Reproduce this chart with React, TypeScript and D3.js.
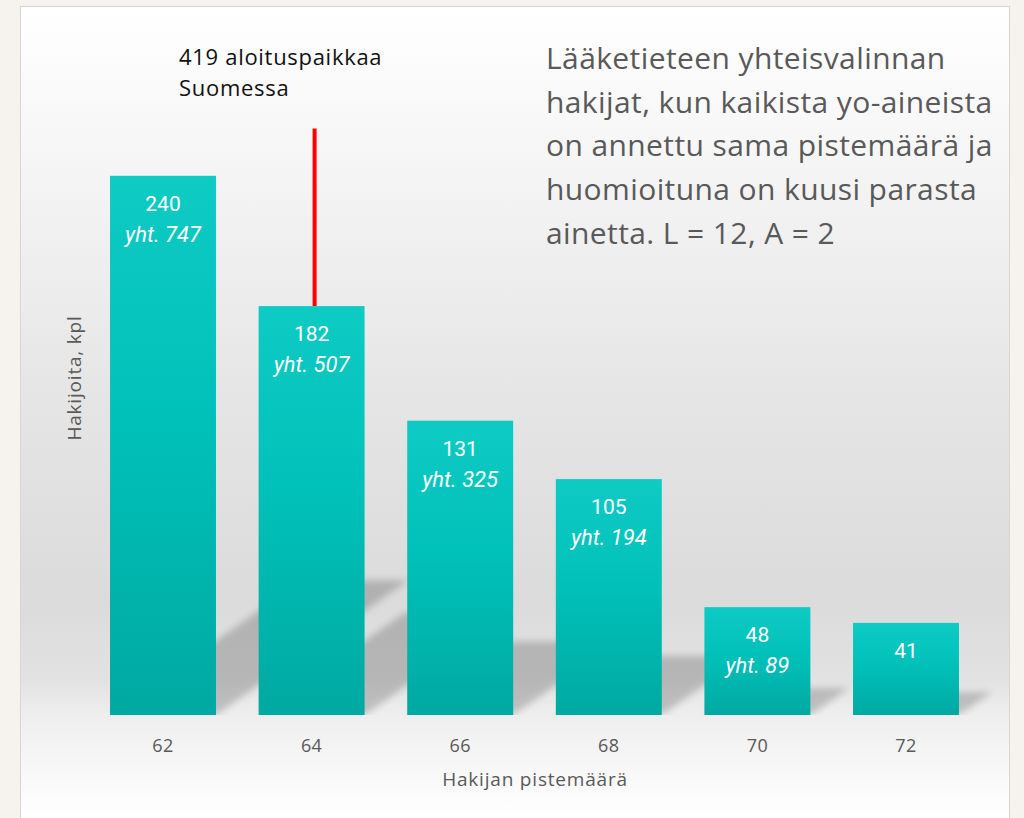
import React from 'react';
import * as d3 from 'd3';

const categories = ['62', '64', '66', '68', '70', '72'];
const applicants = [240, 182, 131, 105, 48, 41];
const cumulative: (number | null)[] = [747, 507, 325, 194, 89, null];
const thresholdCategory = '64';
const thresholdTopValue = 261;
const annotationLines = ['419 aloituspaikkaa', 'Suomessa'];
const titleLines = [
  'Lääketieteen yhteisvalinnan',
  'hakijat, kun kaikista yo-aineista',
  'on annettu sama pistemäärä ja',
  'huomioituna on kuusi parasta',
  'ainetta. L = 12, A = 2',
];
const xTitle = 'Hakijan pistemäärä';
const yTitle = 'Hakijoita, kpl';

const W = 1024;
const H = 818;
const baseY = 715;

export default function App() {
  const x = d3.scaleBand<string>().domain(categories).range([88.7, 980.3]).paddingInner(0.287).paddingOuter(0.1435);
  const y = d3.scaleLinear().domain([0, 300]).range([baseY, 41]);
  const bw = x.bandwidth();

  const shadows = categories.map((c, i) => {
    const x0 = x(c)!;
    const x1 = x0 + bw;
    const h = baseY - y(applicants[i]);
    const dy = 0.25 * h;
    const dx = dy / 0.7;
    return `M${x0},${baseY}L${x1},${baseY}L${x1 + dx},${baseY - dy}L${x0 + dx},${baseY - dy}Z`;
  });

  const redX = x(thresholdCategory)! + bw / 2 + 3;

  return (
    <svg width={W} height={H} style={{ position: 'absolute', left: 0, top: 0, display: 'block' }}>
      <defs>
        <linearGradient id="panelGrad" gradientUnits="userSpaceOnUse" x1="0" y1="6" x2="0" y2="818">
          <stop offset={0} stopColor="#ffffff" />
          <stop offset={(150 - 6) / 812} stopColor="#f6f6f6" />
          <stop offset={(400 - 6) / 812} stopColor="#e5e5e5" />
          <stop offset={(600 - 6) / 812} stopColor="#dbdbdb" />
          <stop offset={(680 - 6) / 812} stopColor="#e2e2e2" />
          <stop offset={(715 - 6) / 812} stopColor="#eeeeee" />
          <stop offset={(760 - 6) / 812} stopColor="#f6f6f6" />
          <stop offset={1} stopColor="#ffffff" />
        </linearGradient>
        <linearGradient id="barGrad" x1="0" y1="0" x2="0" y2="1">
          <stop offset={0} stopColor="#0ecbc4" />
          <stop offset={0.45} stopColor="#00c1b9" />
          <stop offset={1} stopColor="#00a9a2" />
        </linearGradient>
        <filter id="shBlur" x="-20%" y="-20%" width="140%" height="140%">
          <feGaussianBlur stdDeviation="3.5" />
        </filter>
        <clipPath id="plotClip">
          <rect x={21} y={7} width={988} height={baseY - 7} />
        </clipPath>
      </defs>

      <rect x={0} y={0} width={W} height={H} fill="#f6f3ee" />
      <rect x={20.5} y={6.5} width={989} height={830} fill="url(#panelGrad)" stroke="#d6d6d6" strokeWidth={1} />

      <g clipPath="url(#plotClip)">
        <g opacity={0.19} filter="url(#shBlur)">
          {shadows.map((d, i) => (
            <path key={i} d={d} fill="#000" />
          ))}
        </g>
      </g>

      {categories.map((c, i) => (
        <rect key={c} x={x(c)} y={y(applicants[i])} width={bw} height={baseY - y(applicants[i])} fill="url(#barGrad)" />
      ))}

      {categories.map((c, i) => {
        const cx = x(c)! + bw / 2;
        const top = y(applicants[i]);
        return (
          <g key={'l' + c} fill="#ffffff" fontFamily="Roboto" textAnchor="middle">
            <text x={cx} y={top + 35} fontSize={21}>{applicants[i]}</text>
            {cumulative[i] != null && (
              <text x={cx} y={top + 66} fontSize={22} fontStyle="italic">{`yht. ${cumulative[i]}`}</text>
            )}
          </g>
        );
      })}

      <line x1={redX} x2={redX} y1={y(thresholdTopValue)} y2={y(applicants[categories.indexOf(thresholdCategory)])} stroke="#ff0000" strokeWidth={4} />

      {annotationLines.map((t, i) => (
        <text key={t} x={179} y={65 + i * 31} fontFamily="Open Sans" fontSize={22} letterSpacing={0.7} fill="#111">{t}</text>
      ))}

      {titleLines.map((t, i) => (
        <text key={t} x={546} y={69 + i * 43.7} fontFamily="Open Sans" fontSize={30} letterSpacing={0.4} fill="#595959">{t}</text>
      ))}

      {categories.map((c) => (
        <text key={'t' + c} x={x(c)! + bw / 2} y={752} textAnchor="middle" fontFamily="Open Sans" fontSize={18} letterSpacing={0.4} fill="#595959">{c}</text>
      ))}

      <text x={535} y={786} textAnchor="middle" fontFamily="Open Sans" fontSize={19} letterSpacing={0.8} fill="#595959">{xTitle}</text>
      <text transform="translate(81,378) rotate(-90)" textAnchor="middle" fontFamily="Open Sans" fontSize={19} letterSpacing={0.8} fill="#595959">{yTitle}</text>
    </svg>
  );
}
